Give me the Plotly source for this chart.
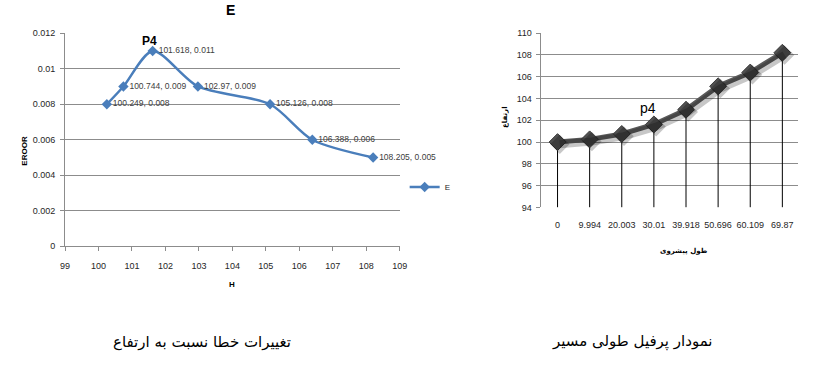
import plotly.graph_objects as go

# ---- data ----
h_values = [100.249, 100.744, 101.618, 102.97, 105.126, 106.388, 108.205]
e_values = [0.008, 0.009, 0.011, 0.009, 0.008, 0.006, 0.005]

distance_labels = ["0", "9.994", "20.003", "30.01", "39.918", "50.696", "60.109", "69.87"]
elevation_values = [100.0, 100.249, 100.744, 101.618, 102.97, 105.126, 106.388, 108.205]

left_y_ticks = [0, 0.002, 0.004, 0.006, 0.008, 0.01, 0.012]
left_x_ticks = [99, 100, 101, 102, 103, 104, 105, 106, 107, 108, 109]
right_y_ticks = [94, 96, 98, 100, 102, 104, 106, 108, 110]

W, H = 832, 371
def px(x):
    return x / W
def py(y):
    return 1 - y / H

tick_font = dict(family="Liberation Sans, Arial", size=9, color="#262626")
grid_col = "#8c8c8c"

fig = go.Figure()

# left chart: smoothed error curve
fig.add_trace(go.Scatter(
    x=h_values, y=e_values, mode="lines+markers+text",
    name="E", xaxis="x", yaxis="y",
    line=dict(color="#4a7ebb", width=2.5, shape="spline", smoothing=0.8),
    marker=dict(symbol="diamond", size=8, color="#4a7ebb"),
    text=[f"{x}, {y}" for x, y in zip(h_values, e_values)],
    textposition="middle right",
    textfont=dict(family="Liberation Sans, Arial", size=8.5, color="#404040"),
    cliponaxis=False, showlegend=True,
))

# right chart: drop lines from each point to the axis floor
drop_x, drop_y = [], []
for c, v in zip(distance_labels, elevation_values):
    drop_x += [c, c, None]
    drop_y += [v, right_y_ticks[0], None]
fig.add_trace(go.Scatter(
    x=drop_x, y=drop_y, mode="lines", xaxis="x2", yaxis="y2",
    line=dict(color="#000000", width=1), showlegend=False, hoverinfo="skip",
))
# shadow (same data on an invisible, slightly offset overlay axis pair)
fig.add_trace(go.Scatter(
    x=distance_labels, y=elevation_values, mode="lines+markers", xaxis="x3", yaxis="y3",
    line=dict(color="rgba(0,0,0,0.22)", width=8),
    marker=dict(symbol="diamond", size=15, color="rgba(0,0,0,0.22)"),
    showlegend=False, hoverinfo="skip",
))
fig.add_trace(go.Scatter(
    x=distance_labels, y=elevation_values, mode="lines+markers", xaxis="x2", yaxis="y2",
    line=dict(color="#5a5a5a", width=5),
    marker=dict(symbol="diamond", size=13, color="#505050", line=dict(color="#3a3a3a", width=1)),
    showlegend=False,
))

n = len(distance_labels)
fig.update_layout(
    width=W, height=H,
    margin=dict(l=0, r=0, t=0, b=0, pad=0),
    paper_bgcolor="white", plot_bgcolor="rgba(0,0,0,0)",
    xaxis=dict(
        domain=[px(61), px(401)], anchor="y",
        range=[99, 109], tickvals=left_x_ticks, ticks="outside", ticklen=4,
        ticklabelstandoff=7,
        tickcolor=grid_col, showline=True, linecolor=grid_col, linewidth=1,
        showgrid=False, zeroline=False, tickfont=tick_font,
    ),
    yaxis=dict(
        domain=[py(248), py(29)], anchor="x",
        range=[0, 0.012], tickvals=left_y_ticks, ticks="outside", ticklen=4,
        ticklabelstandoff=3,
        tickcolor=grid_col, showline=True, linecolor=grid_col, linewidth=1,
        showgrid=True, gridcolor=grid_col, gridwidth=1, zeroline=False,
        tickfont=tick_font,
    ),
    xaxis2=dict(
        domain=[px(545), px(806)], anchor="y2",
        type="category", categoryorder="array", categoryarray=distance_labels,
        range=[-0.5, n - 0.5],
        ticks="outside", ticklen=9, tickcolor="rgba(0,0,0,0)",
        showline=False, showgrid=False, zeroline=False, tickfont=tick_font,
    ),
    yaxis2=dict(
        domain=[py(208), py(29)], anchor="x2",
        range=[94, 110], tickvals=right_y_ticks, ticks="outside", ticklen=4,
        ticklabelstandoff=3,
        tickcolor=grid_col, showline=True, linecolor=grid_col, linewidth=1,
        showgrid=True, gridcolor=grid_col, gridwidth=1, zeroline=False,
        tickfont=tick_font,
    ),
    xaxis3=dict(
        domain=[px(545), px(806)], anchor="y3", overlaying="x2",
        type="category", categoryorder="array", categoryarray=distance_labels,
        range=[-0.5 - 0.07, n - 0.5 - 0.07], visible=False,
    ),
    yaxis3=dict(
        domain=[py(208), py(29)], anchor="x3", overlaying="y2",
        range=[94 + 0.2, 110 + 0.2], visible=False,
    ),
    legend=dict(
        x=px(406), y=py(187), xanchor="left", yanchor="middle",
        font=dict(family="Liberation Sans, Arial", size=8, color="#262626"),
        bgcolor="rgba(0,0,0,0)", itemwidth=30,
    ),
    annotations=[
        dict(text="<b>E</b>", x=px(229), y=py(5)),
        dict(text="<b>P4</b>", x=px(147), y=py(37)),
        dict(text="<b>EROOR</b>", x=px(20), y=py(150), textangle=-90),
        dict(text="<b>H</b>", x=px(231), y=py(287)),
        dict(text="p4", x=px(653), y=py(106)),
        dict(text="<b>ارتفاع</b>", x=px(508), y=py(115), textangle=-90),
        dict(text="<b>طول پیشروی</b>", x=px(690), y=py(253)),
        dict(text="تغییرات خطا نسبت به ارتفاع", x=px(200), y=py(346)),
        dict(text="نمودار پرفیل طولی مسیر", x=px(637), y=py(346)),
    ],
)

fonts = [
    dict(family="Liberation Sans, Arial", size=14, color="#000"),
    dict(family="Liberation Sans, Arial", size=12, color="#000"),
    dict(family="Liberation Sans, Arial", size=8, color="#000"),
    dict(family="Liberation Sans, Arial", size=8, color="#000"),
    dict(family="Liberation Sans, Arial", size=14, color="#000"),
    dict(family="DejaVu Sans", size=7, color="#000"),
    dict(family="DejaVu Sans", size=7, color="#000"),
    dict(family="DejaVu Sans", size=15, color="#000"),
    dict(family="DejaVu Sans", size=15, color="#000"),
]
for a, f in zip(fig.layout.annotations, fonts):
    a.update(xref="paper", yref="paper", xanchor="center", yanchor="middle",
             showarrow=False, font=f)

fig.write_html("out.html")
